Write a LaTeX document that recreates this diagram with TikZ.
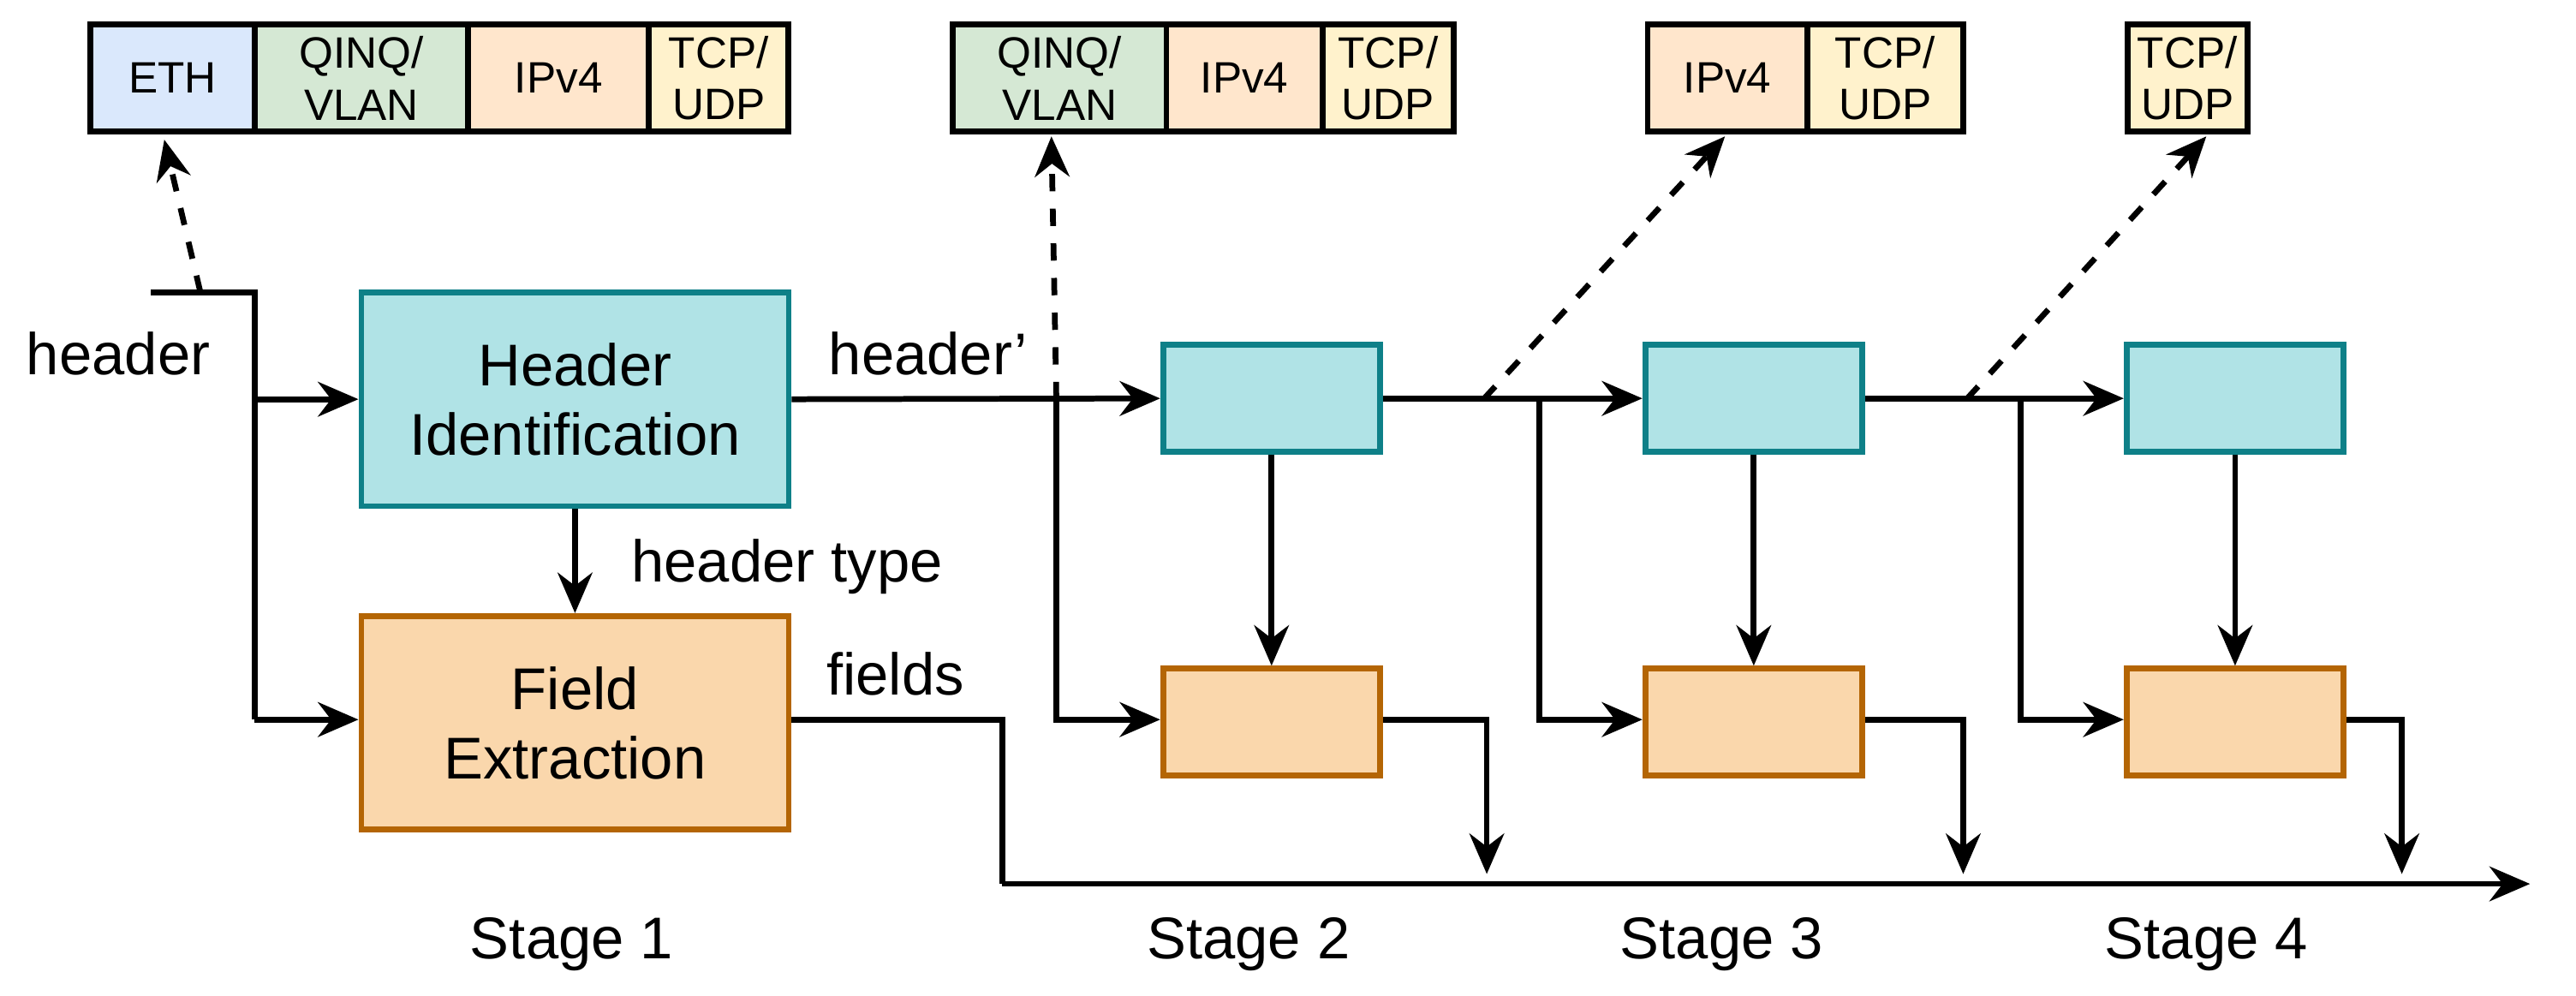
\documentclass[tikz,border=0pt]{standalone}
\usepackage{fontspec}
\setmainfont{Liberation Sans}
\usetikzlibrary{arrows.meta}
\definecolor{cyanf}{HTML}{B0E3E6}\definecolor{cyand}{HTML}{0E8088}
\definecolor{orgf}{HTML}{FAD7AC}\definecolor{orgd}{HTML}{B46504}
\definecolor{ethf}{HTML}{DAE8FC}\definecolor{qf}{HTML}{D5E8D4}
\definecolor{ipf}{HTML}{FFE6CC}\definecolor{tf}{HTML}{FFF2CC}
\begin{document}
\begin{tikzpicture}[x=0.01cm,y=-0.01cm,
 every node/.style={font=\fontsize{10.2}{12}\selectfont},
 hb/.style={draw=black,line width=1pt,minimum height=0.65cm,inner sep=0pt,align=center,font=\fontsize{7.6}{9}\selectfont},
 cy/.style={draw=cyand,fill=cyanf,line width=1pt,inner sep=0pt,align=center},
 og/.style={draw=orgd,fill=orgf,line width=1pt,inner sep=0pt,align=center},
 ln/.style={line width=1pt},
 ar/.style={line width=1pt,-{Stealth[length=7pt,width=6pt]}},
 da/.style={line width=1pt,dashed,-{Stealth[length=7pt,width=6pt]}}]
\useasboundingbox (0,0) rectangle (1568,606);
% header boxes
\node[hb,fill=ethf,minimum width=1cm] (e1) at (105,47.5) {ETH};
\node[hb,fill=qf,minimum width=1.3cm] (q1) at (220,47.5) {QINQ/\\VLAN};
\node[hb,fill=ipf,minimum width=1.1cm] (i1) at (340,47.5) {IPv4};
\node[hb,fill=tf,minimum width=0.85cm] (t1) at (437.5,47.5) {TCP/\\UDP};
\node[hb,fill=qf,minimum width=1.3cm] (q2) at (645,47.5) {QINQ/\\VLAN};
\node[hb,fill=ipf,minimum width=0.95cm] (i2) at (757.5,47.5) {IPv4};
\node[hb,fill=tf,minimum width=0.8cm] (t2) at (845,47.5) {TCP/\\UDP};
\node[hb,fill=ipf,minimum width=0.97cm] (i3) at (1051.5,47.5) {IPv4};
\node[hb,fill=tf,minimum width=0.95cm] (t3) at (1147.5,47.5) {TCP/\\UDP};
\node[hb,fill=tf,minimum width=0.73cm] (t4) at (1331.5,47.5) {TCP/\\UDP};
% main boxes
\node[cy,minimum width=2.6cm,minimum height=1.3cm] (hi) at (350,243) {Header\\Identification};
\node[og,minimum width=2.6cm,minimum height=1.3cm] (fe) at (350,440) {Field\\Extraction};
\foreach \n/\x in {2/774,3/1067.5,4/1360.5}{
 \node[cy,minimum width=1.32cm,minimum height=0.65cm] (c\n) at (\x,242.5) {};
 \node[og,minimum width=1.32cm,minimum height=0.65cm] (o\n) at (\x,439.5) {};
}
% coordinates
\coordinate (s0) at (92,178); \coordinate (s1) at (155,178);
\coordinate (j1) at (643,243); \coordinate (j2) at (937,243); \coordinate (j3) at (1230,243);
\coordinate (d2) at (903,243); \coordinate (d3) at (1197,243);
\coordinate (bus0) at (610,538); \coordinate (busE) at (1540,538);
% input
\draw[ln] (s0) -- (s1) -- (155,438);
\draw[ar] (155,243) -- (hi.west);
\draw[ar] (155,438) -- (fe.west|-155,438);
\draw[da] (122,178) -- (100,85);
\node at (72,215) {header};
% stage 1 out
\draw[ar] (hi.east) -- (c2.west);
\node at (565,215) {header'};
\draw[ar] (j1) -- (643,438) -- (o2.west|-643,438);
\draw[da] (j1) -- (640,83);
\draw[ar] (hi.south) -- (fe.north);
\node[anchor=west] at (372,345) {header type};
\draw[ln] (fe.east|-480,438) -- (610,438) -- (bus0);
\node at (545,410) {fields};
\draw[ar] (bus0) -- (busE);
% stage links
\draw[ar] (c2.east) -- (c3.west);
\draw[ar] (c3.east) -- (c4.west);
\draw[ar] (j2) -- (937,438) -- (o3.west|-937,438);
\draw[ar] (j3) -- (1230,438) -- (o4.west|-1230,438);
\draw[da] (d2) -- (1050,83);
\draw[da] (d3) -- (1343,83);
\foreach \n in {2,3,4}{\draw[ar] (c\n.south) -- (o\n.north);}
\draw[ar] (o2.east|-840,438) -- (905,438) -- (905,532);
\draw[ar] (o3.east|-1133,438) -- (1195,438) -- (1195,532);
\draw[ar] (o4.east|-1426,438) -- (1462,438) -- (1462,532);
% stage labels
\node at (348,575) {Stage 1};
\node at (760,575) {Stage 2};
\node at (1048,575) {Stage 3};
\node at (1343,575) {Stage 4};
\end{tikzpicture}
\end{document}
